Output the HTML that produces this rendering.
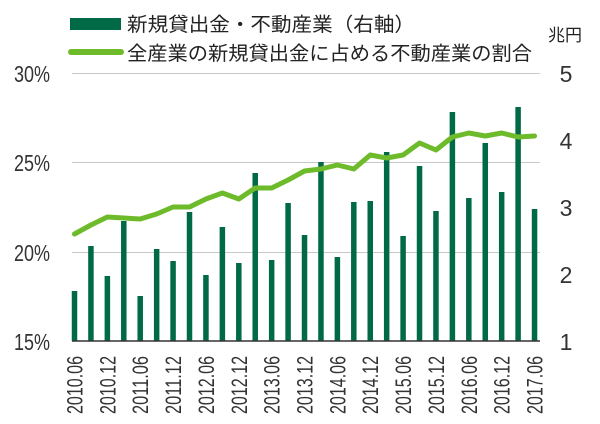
<!DOCTYPE html>
<html><head><meta charset="utf-8"><style>
html,body{margin:0;padding:0;background:#fff;}
svg{display:block;}
.t{font-family:"Liberation Sans Narrow","Liberation Sans",sans-serif;fill:#333;}
.j{font-family:"Liberation Sans","Noto Sans CJK JP",sans-serif;fill:#222;font-size:19.5px;}
</style></head><body>
<svg width="600" height="424" viewBox="0 0 600 424" xmlns="http://www.w3.org/2000/svg">
<rect x="70" y="18" width="51" height="12" fill="#006a47"/>
<line x1="71" y1="52" x2="121" y2="52" stroke="#6dbb2b" stroke-width="6" stroke-linecap="round"/>
<text class="j" x="127" y="31" textLength="288" lengthAdjust="spacingAndGlyphs">新規貸出金・不動産業（右軸）</text>
<text class="j" x="127" y="60" textLength="405" lengthAdjust="spacingAndGlyphs">全産業の新規貸出金に占める不動産業の割合</text>
<text class="j" x="548" y="41" style="font-size:17px">兆円</text>
<g stroke="#c8c8c8" stroke-width="1">
<line x1="72" y1="73.5" x2="540" y2="73.5"/>
<line x1="72" y1="162.5" x2="540" y2="162.5"/>
<line x1="72" y1="252.5" x2="540" y2="252.5"/>
</g>
<g class="t" font-size="23" text-anchor="end">
<text x="50" y="82" textLength="36" lengthAdjust="spacingAndGlyphs">30%</text>
<text x="50" y="171" textLength="36" lengthAdjust="spacingAndGlyphs">25%</text>
<text x="50" y="261" textLength="36" lengthAdjust="spacingAndGlyphs">20%</text>
<text x="50" y="350" textLength="36" lengthAdjust="spacingAndGlyphs">15%</text>
</g>
<g class="t" font-size="23" text-anchor="middle">
<text x="566" y="82">5</text><text x="566" y="149">4</text><text x="566" y="216">3</text><text x="566" y="283">2</text><text x="566" y="350">1</text>
</g>
<g fill="#006a47" id="bars"></g>
<line x1="72" y1="341" x2="540" y2="341" stroke="#333" stroke-width="1.5"/>
<polyline id="ln" fill="none" stroke="#6dbb2b" stroke-width="5" stroke-linejoin="round" stroke-linecap="round" points=""/>
<g id="lab" class="t" font-size="22"></g>
</svg>
<script>
var tops=[291,246,276,221,296,249,261,212,275,227,263,173,260,203,235,162,257,202,201,152,236,166,211,112,198,143,192,107,209];
var ly=[234,225,217,218,219,214,207,207,199,193,199,188,188,180,171,169,165,169,155,158,155,143,150,137,133,136,133,137,136];
var labs=["2010.06","2010.12","2011.06","2011.12","2012.06","2012.12","2013.06","2013.12","2014.06","2014.12","2015.06","2015.12","2016.06","2016.12","2017.06"];
var ns="http://www.w3.org/2000/svg",b=document.getElementById("bars"),pts=[];
for(var i=0;i<29;i++){var x=74.5+i*16.43;var r=document.createElementNS(ns,"rect");
r.setAttribute("x",x-2.75);r.setAttribute("y",tops[i]);r.setAttribute("width",5.5);r.setAttribute("height",341-tops[i]);b.appendChild(r);
pts.push(x+","+ly[i]);}
document.getElementById("ln").setAttribute("points",pts.join(" "));
var g=document.getElementById("lab");
for(var k=0;k<15;k++){var x=74.5+k*32.86+8;var t=document.createElementNS(ns,"text");
t.setAttribute("transform","translate("+x+",356) rotate(-90)");t.setAttribute("text-anchor","end");
t.setAttribute("textLength","58");t.setAttribute("lengthAdjust","spacingAndGlyphs");t.textContent=labs[k];g.appendChild(t);}
</script>
</body></html>
